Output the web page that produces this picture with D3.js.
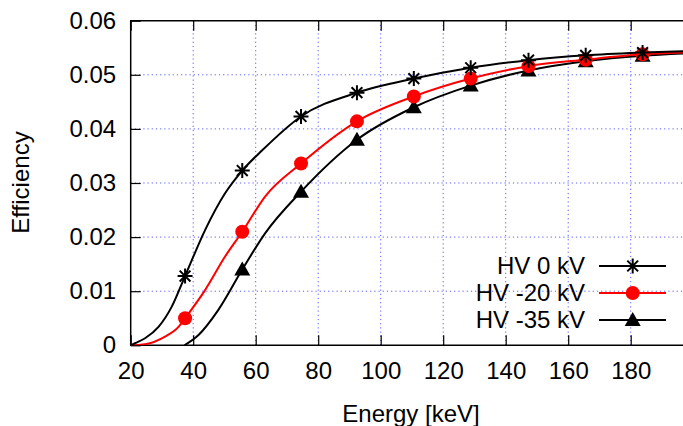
<!DOCTYPE html>
<html>
<head>
<meta charset="utf-8">
<script src="https://cdn.jsdelivr.net/npm/d3@7"></script>
<style>
  html, body { margin: 0; padding: 0; background: #fff; }
  svg text { font-family: "Liberation Sans", Arial, sans-serif; fill: #000; }
</style>
</head>
<body>
<svg id="chart" width="683" height="426"></svg>
<script>
// Measured detection efficiency versus photon energy for three HV settings
const energies = [37.4, 55.7, 74.5, 92.4, 110.6, 128.8, 147.3, 165.6, 183.8];
const effHV0   = [0.0128, 0.0323, 0.0423, 0.0467, 0.0493, 0.0513, 0.0527, 0.0536, 0.0541];
const effHV20  = [0.0050, 0.0210, 0.0336, 0.0414, 0.0460, 0.0493, 0.0516, 0.0528, 0.0538];
const effHV35  = [null,   0.0140, 0.0284, 0.0380, 0.0440, 0.0480, 0.0508, 0.0525, 0.0535];

// Fitted response curves (energy, efficiency)
const fitHV0 = [[20,0],[21.4,0.0004],[24.6,0.0013],[28.9,0.0034],[33.1,0.0071],[37.4,0.0128],
  [43.8,0.0213],[50.2,0.0281],[55.7,0.0323],[62,0.0360],[74.5,0.0423],[92.4,0.0467],
  [110.6,0.0493],[128.8,0.0513],[147.3,0.0527],[165.6,0.0536],[183.8,0.0541],[200,0.0544]];
const fitHV20 = [[20,0],[24.6,0.0002],[31,0.0016],[35.3,0.0034],[37.4,0.0050],[43.8,0.0102],
  [50.2,0.0164],[55.7,0.0210],[63,0.0275],[74.5,0.0336],[92.4,0.0414],[110.6,0.0460],
  [128.8,0.0493],[147.3,0.0516],[165.6,0.0528],[183.8,0.0538],[200,0.0542]];
const fitHV35 = [[37.2,0],[41.7,0.0019],[48,0.0065],[55.7,0.0140],[63,0.0207],[74.5,0.0284],
  [92.4,0.0380],[110.6,0.0440],[128.8,0.0480],[147.3,0.0508],[165.6,0.0525],[183.8,0.0535],[200,0.0540]];

const xTicks = [20, 40, 60, 80, 100, 120, 140, 160, 180];
const yTicks = [0, 0.01, 0.02, 0.03, 0.04, 0.05, 0.06];
const seriesNames = ["HV 0 kV", "HV -20 kV", "HV -35 kV"];
const seriesColors = ["#000000", "#ff0000", "#000000"];
const seriesMarkers = ["star", "circle", "triangle"];

const svg = d3.select("#chart");
const plotLeft = 130.7, plotTop = 20.7, plotBottom = 345.3;
const x = d3.scaleLinear().domain([20, 200]).range([plotLeft, plotLeft + 180 * 3.125]);
const y = d3.scaleLinear().domain([0, 0.06]).range([plotBottom, plotTop]);
const plotRight = x(200);

svg.append("defs").append("clipPath").attr("id", "plot-clip")
  .append("rect").attr("x", plotLeft).attr("y", plotTop)
  .attr("width", plotRight - plotLeft).attr("height", plotBottom - plotTop);

// Grid
const grid = svg.append("g");
grid.selectAll("line.gx").data(xTicks.slice(1)).join("line")
  .attr("x1", d => x(d)).attr("x2", d => x(d)).attr("y1", plotTop).attr("y2", plotBottom)
  .attr("stroke", "#5a5aff").attr("stroke-width", 1).attr("stroke-dasharray", "1.2,3");
grid.selectAll("line.gy").data(yTicks.slice(1, -1)).join("line")
  .attr("y1", d => y(d)).attr("y2", d => y(d)).attr("x1", plotLeft).attr("x2", plotRight)
  .attr("stroke", "#5a5aff").attr("stroke-width", 1).attr("stroke-dasharray", "1.2,3");

// Axes with inward ticks, mirrored on the top edge
const tickLen = 10;
const xAxis = svg.append("g").attr("transform", `translate(0,${plotBottom})`)
  .call(d3.axisBottom(x).tickValues(xTicks).tickSize(-tickLen).tickPadding(17).tickFormat(d3.format("d")));
const yAxis = svg.append("g").attr("transform", `translate(${plotLeft},0)`)
  .call(d3.axisLeft(y).tickValues(yTicks).tickSize(-tickLen).tickPadding(14.5).tickFormat(d => d === 0 ? "0" : d3.format(".2f")(d)));
const xTop = svg.append("g").attr("transform", `translate(0,${plotTop})`)
  .call(d3.axisTop(x).tickValues(xTicks).tickSize(-tickLen).tickFormat(""));
[xAxis, yAxis, xTop].forEach(g => {
  g.select(".domain").remove();
  g.selectAll(".tick line").attr("stroke", "#000").attr("stroke-width", 1.2);
  g.selectAll("text").style("font-size", "24px").attr("fill", "#000");
});

// Frame
svg.append("path")
  .attr("d", `M${plotRight},${plotTop}H${plotLeft}V${plotBottom}H${plotRight}`)
  .attr("fill", "none").attr("stroke", "#000").attr("stroke-width", 1.5);

// Axis titles
svg.append("text").attr("x", 411).attr("y", 422).attr("text-anchor", "middle")
  .style("font-size", "24px").text("Energy [keV]");
svg.append("text").attr("transform", "translate(29,182.5) rotate(-90)").attr("text-anchor", "middle")
  .style("font-size", "24px").text("Efficiency");

// Curves and markers
const line = d3.line().x(d => x(d[0])).y(d => y(d[1])).curve(d3.curveMonotoneX);
const fits = [fitHV0, fitHV20, fitHV35];
const effs = [effHV0, effHV20, effHV35];
const plot = svg.append("g").attr("clip-path", "url(#plot-clip)");

function drawMarker(g, kind, cx, cy, color) {
  if (kind === "star") {
    const r = 7.5, d = r * 0.72;
    g.append("path")
      .attr("d", `M${cx - r},${cy}H${cx + r}M${cx},${cy - r}V${cy + r}M${cx - d},${cy - d}L${cx + d},${cy + d}M${cx - d},${cy + d}L${cx + d},${cy - d}`)
      .attr("stroke", color).attr("stroke-width", 2).attr("fill", "none");
  } else if (kind === "circle") {
    g.append("circle").attr("cx", cx).attr("cy", cy).attr("r", 7).attr("fill", color);
  } else {
    const s = 8;
    g.append("path")
      .attr("d", `M${cx},${cy - s}L${cx + s},${cy + s * 0.75}L${cx - s},${cy + s * 0.75}Z`)
      .attr("fill", color);
  }
}

// Draw in reverse so HV 0 kV ends on top
[2, 1, 0].forEach(i => {
  plot.append("path").datum(fits[i]).attr("d", line)
    .attr("fill", "none").attr("stroke", seriesColors[i]).attr("stroke-width", 2);
});
[2, 1, 0].forEach(i => {
  energies.forEach((e, j) => {
    if (effs[i][j] == null) return;
    drawMarker(plot, seriesMarkers[i], x(e), y(effs[i][j]), seriesColors[i]);
  });
});

// Legend
const legendY = [266, 293, 320];
seriesNames.forEach((name, i) => {
  const g = svg.append("g");
  g.append("text").attr("x", 585).attr("y", legendY[i]).attr("dy", "0.35em")
    .attr("text-anchor", "end").style("font-size", "24px").text(name);
  g.append("line").attr("x1", 599).attr("x2", 666).attr("y1", legendY[i]).attr("y2", legendY[i])
    .attr("stroke", seriesColors[i]).attr("stroke-width", 2);
  drawMarker(g, seriesMarkers[i], 632.7, legendY[i], seriesColors[i]);
});
</script>
</body>
</html>
